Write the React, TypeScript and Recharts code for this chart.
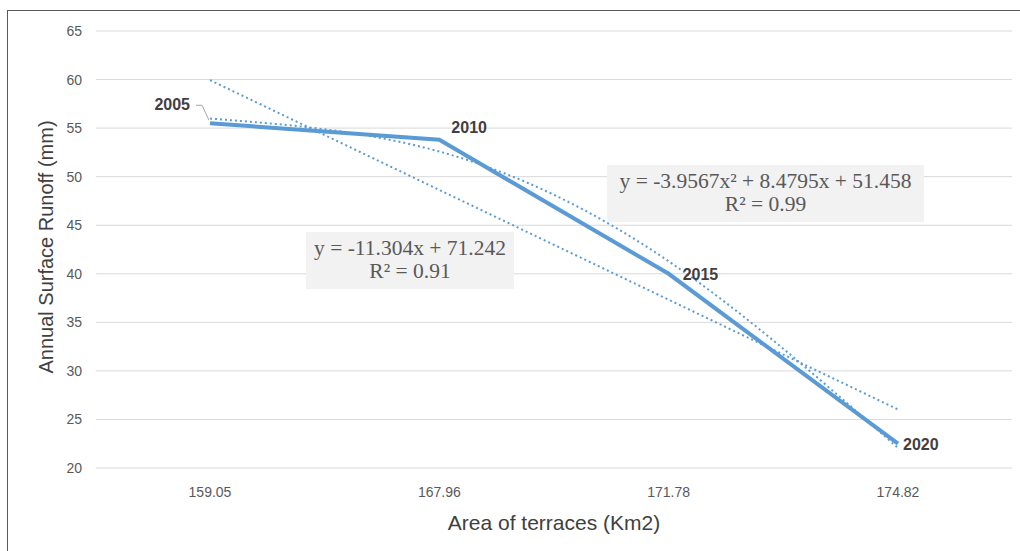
import React from 'react';
import { LineChart, Line, XAxis, YAxis, CartesianGrid, LabelList } from 'recharts';

// area of terraces (km2) on the category axis
const areas = ['159.05', '167.96', '171.78', '174.82'];
const years = ['2005', '2010', '2015', '2020'];
const runoff = [55.5, 53.8, 40.0, 22.5];
const linearTrend = [59.94, 48.63, 37.33, 26.03];
const polyTrend = [55.98, 52.59, 41.29, 22.07];
const yTicks = [20, 25, 30, 35, 40, 45, 50, 55, 60, 65];

const data = areas.map((a, i) => ({
  area: a,
  year: years[i],
  runoff: runoff[i],
  linear: linearTrend[i],
  poly: polyTrend[i],
}));

const blue = '#5b9bd5';
const font = '"Liberation Sans", Arial, sans-serif';

const YearLabel = (props: any) => {
  const { x, y, index } = props;
  const txt = years[index];
  const style = { fontFamily: font, fontSize: 16, fontWeight: 700, fill: '#404040' };
  if (index === 0) {
    return (
      <g>
        <polyline
          points={`${x - 14},${y - 18} ${x - 8},${y - 18} ${x - 1},${y - 3}`}
          fill="none"
          stroke="#a6a6a6"
          strokeWidth={1}
        />
        <text x={x - 20} y={y - 17} textAnchor="end" dominantBaseline="middle" style={style}>
          {txt}
        </text>
      </g>
    );
  }
  const offs: Record<number, [number, number]> = { 1: [12, -11], 2: [14, 2], 3: [5, 2] };
  const [dx, dy] = offs[index];
  return (
    <text x={x + dx} y={y + dy} textAnchor="start" dominantBaseline="middle" style={style}>
      {txt}
    </text>
  );
};

const YTitle = () => (
  <text
    x={48}
    y={247}
    transform="rotate(-90 48 247)"
    textAnchor="middle"
    dominantBaseline="middle"
    style={{ fill: '#404040', fontSize: 20, fontFamily: font }}
  >
    Annual Surface Runoff (mm)
  </text>
);

const eqBox: React.CSSProperties = {
  position: 'absolute',
  background: '#f2f2f2',
  color: '#595959',
  fontFamily: '"Liberation Serif", "Times New Roman", serif',
  fontSize: 21.5,
  lineHeight: '23px',
  textAlign: 'center',
  boxSizing: 'border-box',
  paddingTop: 5,
};

export default function App() {
  return (
    <div style={{ position: 'absolute', left: 0, top: 0, width: 1020, height: 551, background: '#fff', overflow: 'hidden' }}>
      <div
        style={{
          position: 'absolute',
          left: 7,
          top: 10,
          width: 1030,
          height: 560,
          border: '1px solid #595959',
          boxSizing: 'border-box',
        }}
      />
      <div style={{ position: 'absolute', left: 0, top: 0 }}>
        <LineChart width={1020} height={551} data={data} margin={{ top: 31, right: 8, bottom: 0, left: 0 }}>
          <CartesianGrid vertical={false} stroke="#d9d9d9" strokeWidth={1} />
          <XAxis
            dataKey="area"
            height={83}
            padding={{ left: 114, right: 114 }}
            axisLine={false}
            tickLine={false}
            tickSize={0}
            tickMargin={19}
            tick={{ fill: '#595959', fontSize: 14, fontFamily: font }}
            label={{
              value: 'Area of terraces (Km2)',
              position: 'insideBottom',
              offset: 21,
              style: { fill: '#404040', fontSize: 21, fontFamily: font },
            }}
          />
          <YAxis
            width={96}
            domain={[20, 65]}
            ticks={yTicks}
            axisLine={false}
            tickLine={false}
            tickSize={0}
            tickMargin={14}
            tick={{ fill: '#595959', fontSize: 14, fontFamily: font }}
            label={<YTitle />}
          />
          <Line
            dataKey="runoff"
            type="linear"
            stroke={blue}
            strokeWidth={4}
            dot={false}
            isAnimationActive={false}
          >
            <LabelList dataKey="year" content={YearLabel} />
          </Line>
          <Line
            dataKey="linear"
            type="linear"
            stroke={blue}
            strokeWidth={2}
            strokeDasharray="2 3"
            dot={false}
            isAnimationActive={false}
          />
          <Line
            dataKey="poly"
            type="natural"
            stroke={blue}
            strokeWidth={2}
            strokeDasharray="2 3"
            dot={false}
            isAnimationActive={false}
          />
        </LineChart>
      </div>
      <div style={{ ...eqBox, left: 306, top: 232, width: 208, height: 57 }}>
        y = -11.304x + 71.242
        <br />
        R² = 0.91
      </div>
      <div style={{ ...eqBox, left: 607, top: 165, width: 317, height: 57 }}>
        y = -3.9567x² + 8.4795x + 51.458
        <br />
        R² = 0.99
      </div>
    </div>
  );
}
